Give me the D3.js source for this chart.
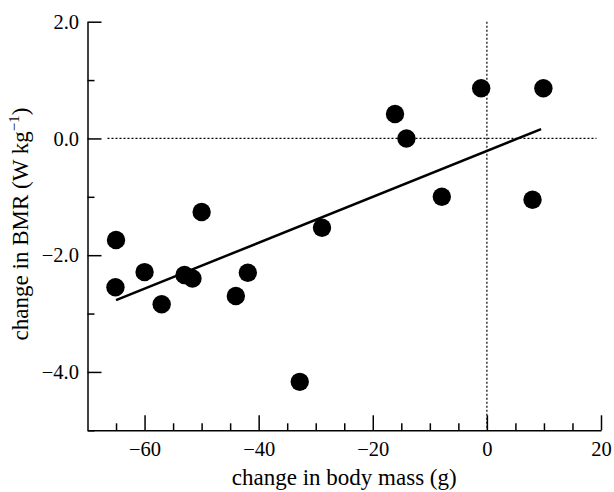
<!DOCTYPE html>
<html>
<head>
<meta charset="utf-8">
<script src="https://cdn.jsdelivr.net/npm/d3@7"></script>
<style>
  body { margin: 0; background: #fff; }
</style>
</head>
<body>
<div id="chart"></div>
<script>
// body mass change (g) vs BMR change (W kg-1)
const massChange = [-1.0, 9.9, -16.1, -14.1, -7.9, 8.0, -50.0, -65.0, -60.0, -53.0, -51.6, -65.1, -57.0, -41.9, -44.0, -28.9, -32.8];
const bmrChange  = [0.86, 0.86, 0.42, 0.0, -1.0, -1.05, -1.26, -1.74, -2.29, -2.34, -2.40, -2.55, -2.84, -2.30, -2.70, -1.53, -4.17];
// fitted line ends
const fitX = [-65.0, 9.5];
const fitY = [-2.77, 0.16];
const xMajor = [-60, -40, -20, 0, 20];
const xMinor = [-65, -55, -50, -45, -35, -30, -25, -15, -10, -5, 5, 10, 15];
const yMajor = [2, 0, -2, -4];
const yMinor = [1, -1, -3, -5];

const width = 614, height = 492;
const mLeft = 87.5, mRight = 601, mTop = 21.7, mBottom = 430.3;
const serif = "Liberation Serif";

const svg = d3.select("#chart").append("svg")
    .attr("width", width)
    .attr("height", height)
    .style("font-family", serif);

const x = d3.scaleLinear().domain([-70, 20]).range([mLeft, mRight]);
const y = d3.scaleLinear().domain([-5, 2]).range([mBottom, mTop]);

// reference lines at zero
svg.append("line")
    .attr("x1", x(-66.5)).attr("x2", x(19.2))
    .attr("y1", y(0)).attr("y2", y(0))
    .attr("stroke", "#000").attr("stroke-width", 1.2)
    .attr("stroke-dasharray", "2,2");
svg.append("line")
    .attr("x1", x(0)).attr("x2", x(0))
    .attr("y1", y(2)).attr("y2", y(-5))
    .attr("stroke", "#000").attr("stroke-width", 1.2)
    .attr("stroke-dasharray", "2,2");

// axes: ticks point inwards
const gx = svg.append("g").attr("transform", `translate(0,${mBottom})`);
gx.call(d3.axisBottom(x).tickValues(xMajor).tickSizeInner(-15).tickSizeOuter(0)
    .tickPadding(11).tickFormat(d3.format("d")));
gx.append("g").call(d3.axisBottom(x).tickValues(xMinor).tickSizeInner(-7).tickSizeOuter(0).tickFormat(""))
    .select(".domain").remove();

const gy = svg.append("g").attr("transform", `translate(${mLeft},0)`);
gy.call(d3.axisLeft(y).tickValues(yMajor).tickSizeInner(-14).tickSizeOuter(0)
    .tickPadding(8.5).tickFormat(d3.format(".1f")));
gy.append("g").call(d3.axisLeft(y).tickValues(yMinor).tickSizeInner(-7).tickSizeOuter(0).tickFormat(""))
    .select(".domain").remove();

// d3 puts sans-serif on the axis groups, put the serif back on every label
svg.selectAll(".tick text")
    .style("font-family", serif)
    .style("font-size", "20.5px");
svg.selectAll(".domain, .tick line").attr("stroke", "#000").attr("stroke-width", 1.5);

// fitted line
svg.append("path")
    .datum(d3.zip(fitX, fitY))
    .attr("fill", "none")
    .attr("stroke", "#000")
    .attr("stroke-width", 2.5)
    .attr("d", d3.line().x(d => x(d[0])).y(d => y(d[1])));

// points
svg.append("g")
  .selectAll("circle")
  .data(d3.zip(massChange, bmrChange))
  .join("circle")
    .attr("cx", d => x(d[0]))
    .attr("cy", d => y(d[1]))
    .attr("r", 9.2)
    .attr("fill", "#000");

// axis titles
svg.append("text")
    .attr("x", (mLeft + mRight) / 2)
    .attr("y", 485)
    .attr("text-anchor", "middle")
    .style("font-size", "23px")
    .text("change in body mass (g)");

const yt = svg.append("text")
    .attr("transform", `translate(28,224) rotate(-90)`)
    .attr("text-anchor", "middle")
    .style("font-size", "23px");
yt.append("tspan").text("change in BMR (W kg");
yt.append("tspan").style("font-size", "15px").attr("dy", -9).text("\u22121");
yt.append("tspan").attr("dy", 9).text(")");
</script>
</body>
</html>
